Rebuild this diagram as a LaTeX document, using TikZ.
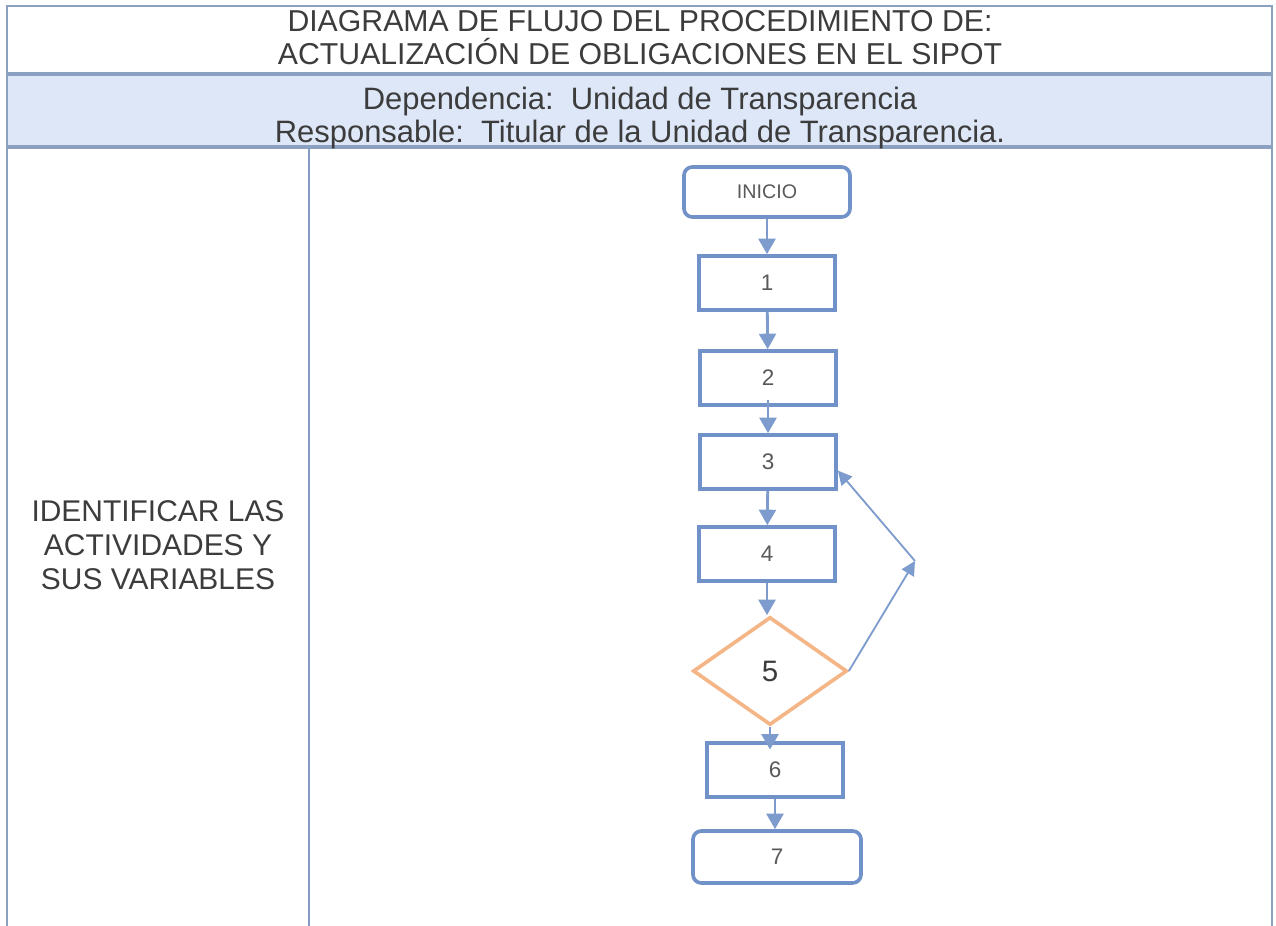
\documentclass[tikz,border=0pt]{standalone}
\usepackage{fontspec}
\setmainfont{Liberation Sans}
\usetikzlibrary{shapes.geometric,arrows.meta}
\definecolor{azulcaja}{RGB}{112,146,200}
\definecolor{azulflecha}{RGB}{125,156,205}
\definecolor{naranja}{RGB}{244,182,134}
\definecolor{marco}{RGB}{140,160,192}
\definecolor{banda}{RGB}{221,231,247}
\definecolor{texto}{RGB}{60,60,60}
\begin{document}
\begin{tikzpicture}[x=0.025cm,y=-0.025cm,
	caja/.style={draw=azulcaja,line width=2.6pt,fill=white,minimum width=3.4cm,minimum height=1.35cm,text=texto!85,font=\fontsize{16}{18}\selectfont},
	redonda/.style={caja,rounded corners=6pt},
	decision/.style={diamond,draw=naranja,line width=2.6pt,fill=white,minimum width=3.85cm,minimum height=2.7cm,inner sep=0pt,text=texto,font=\fontsize{21}{22}\selectfont},
	flecha/.style={draw=azulflecha,line width=2pt,-{Triangle[width=12pt,length=11pt]}},
	flechafina/.style={draw=azulflecha,line width=1.3pt,-{Triangle[width=10pt,length=10pt]}},
	titulo/.style={align=center,text=texto,font=\fontsize{21.5}{23.5}\selectfont}]
	\useasboundingbox (0,0) rectangle (1276,926);
	% marco y encabezado
	\fill[banda] (7,74) rectangle (1272,147);
	\draw[marco,line width=1.4pt] (7,926)--(7,6)--(1272,6)--(1272,926);
	\draw[marco,line width=2.2pt] (7,74)--(1272,74);
	\draw[marco,line width=2.2pt] (7,147)--(1272,147);
	\draw[marco!70!azulcaja,line width=1.2pt] (309,148)--(309,926);
	\node[titulo] (titulo) at (640,38) {DIAGRAMA DE FLUJO DEL PROCEDIMIENTO DE:\\ACTUALIZACIÓN DE OBLIGACIONES EN EL SIPOT};
	\node[titulo,font=\fontsize{22}{23.5}\selectfont] (dependencia) at (640,118) {Dependencia:\ \ Unidad de Transparencia\\Responsable:\ \ Titular de la Unidad de Transparencia.};
	\node[titulo,font=\fontsize{21.3}{24}\selectfont] (etapa) at (158,545) {IDENTIFICAR LAS\\ACTIVIDADES Y\\SUS VARIABLES};
	% diagrama
	\node[redonda,minimum width=4.15cm,minimum height=1.25cm,font=\fontsize{14}{16}\selectfont] (inicio) at (767,192) {INICIO};
	\node[caja] (uno) at (767,283) {1};
	\node[caja] (dos) at (768,378) {2};
	\node[caja] (tres) at (768,462) {3};
	\node[caja] (cuatro) at (767,554) {4};
	\node[decision] (cinco) at (770,671) {5};
	\node[caja] (seis) at (775,770) {6};
	\node[redonda,minimum width=4.2cm,minimum height=1.3cm] (siete) at (777,857) {7};
	\coordinate (giro) at (915,561);
	\draw[flecha] (inicio) -- (uno);
	\draw[flecha] (uno) -- (dos);
	\draw[flecha,shorten <=-5pt] (dos) -- (tres);
	\draw[flecha] (tres) -- (cuatro);
	\draw[flecha] (cuatro.south) -- (cuatro.south |- cinco.north);
	\draw[flecha,shorten >=-6pt] (cinco.south) -- (cinco.south |- seis.north);
	\draw[flecha] (seis.south) -- (seis.south |- siete.north);
	\draw[flechafina] (cinco.east) -- (giro);
	\draw[flechafina] (giro) -- (tres.-7);
\end{tikzpicture}
\end{document}
